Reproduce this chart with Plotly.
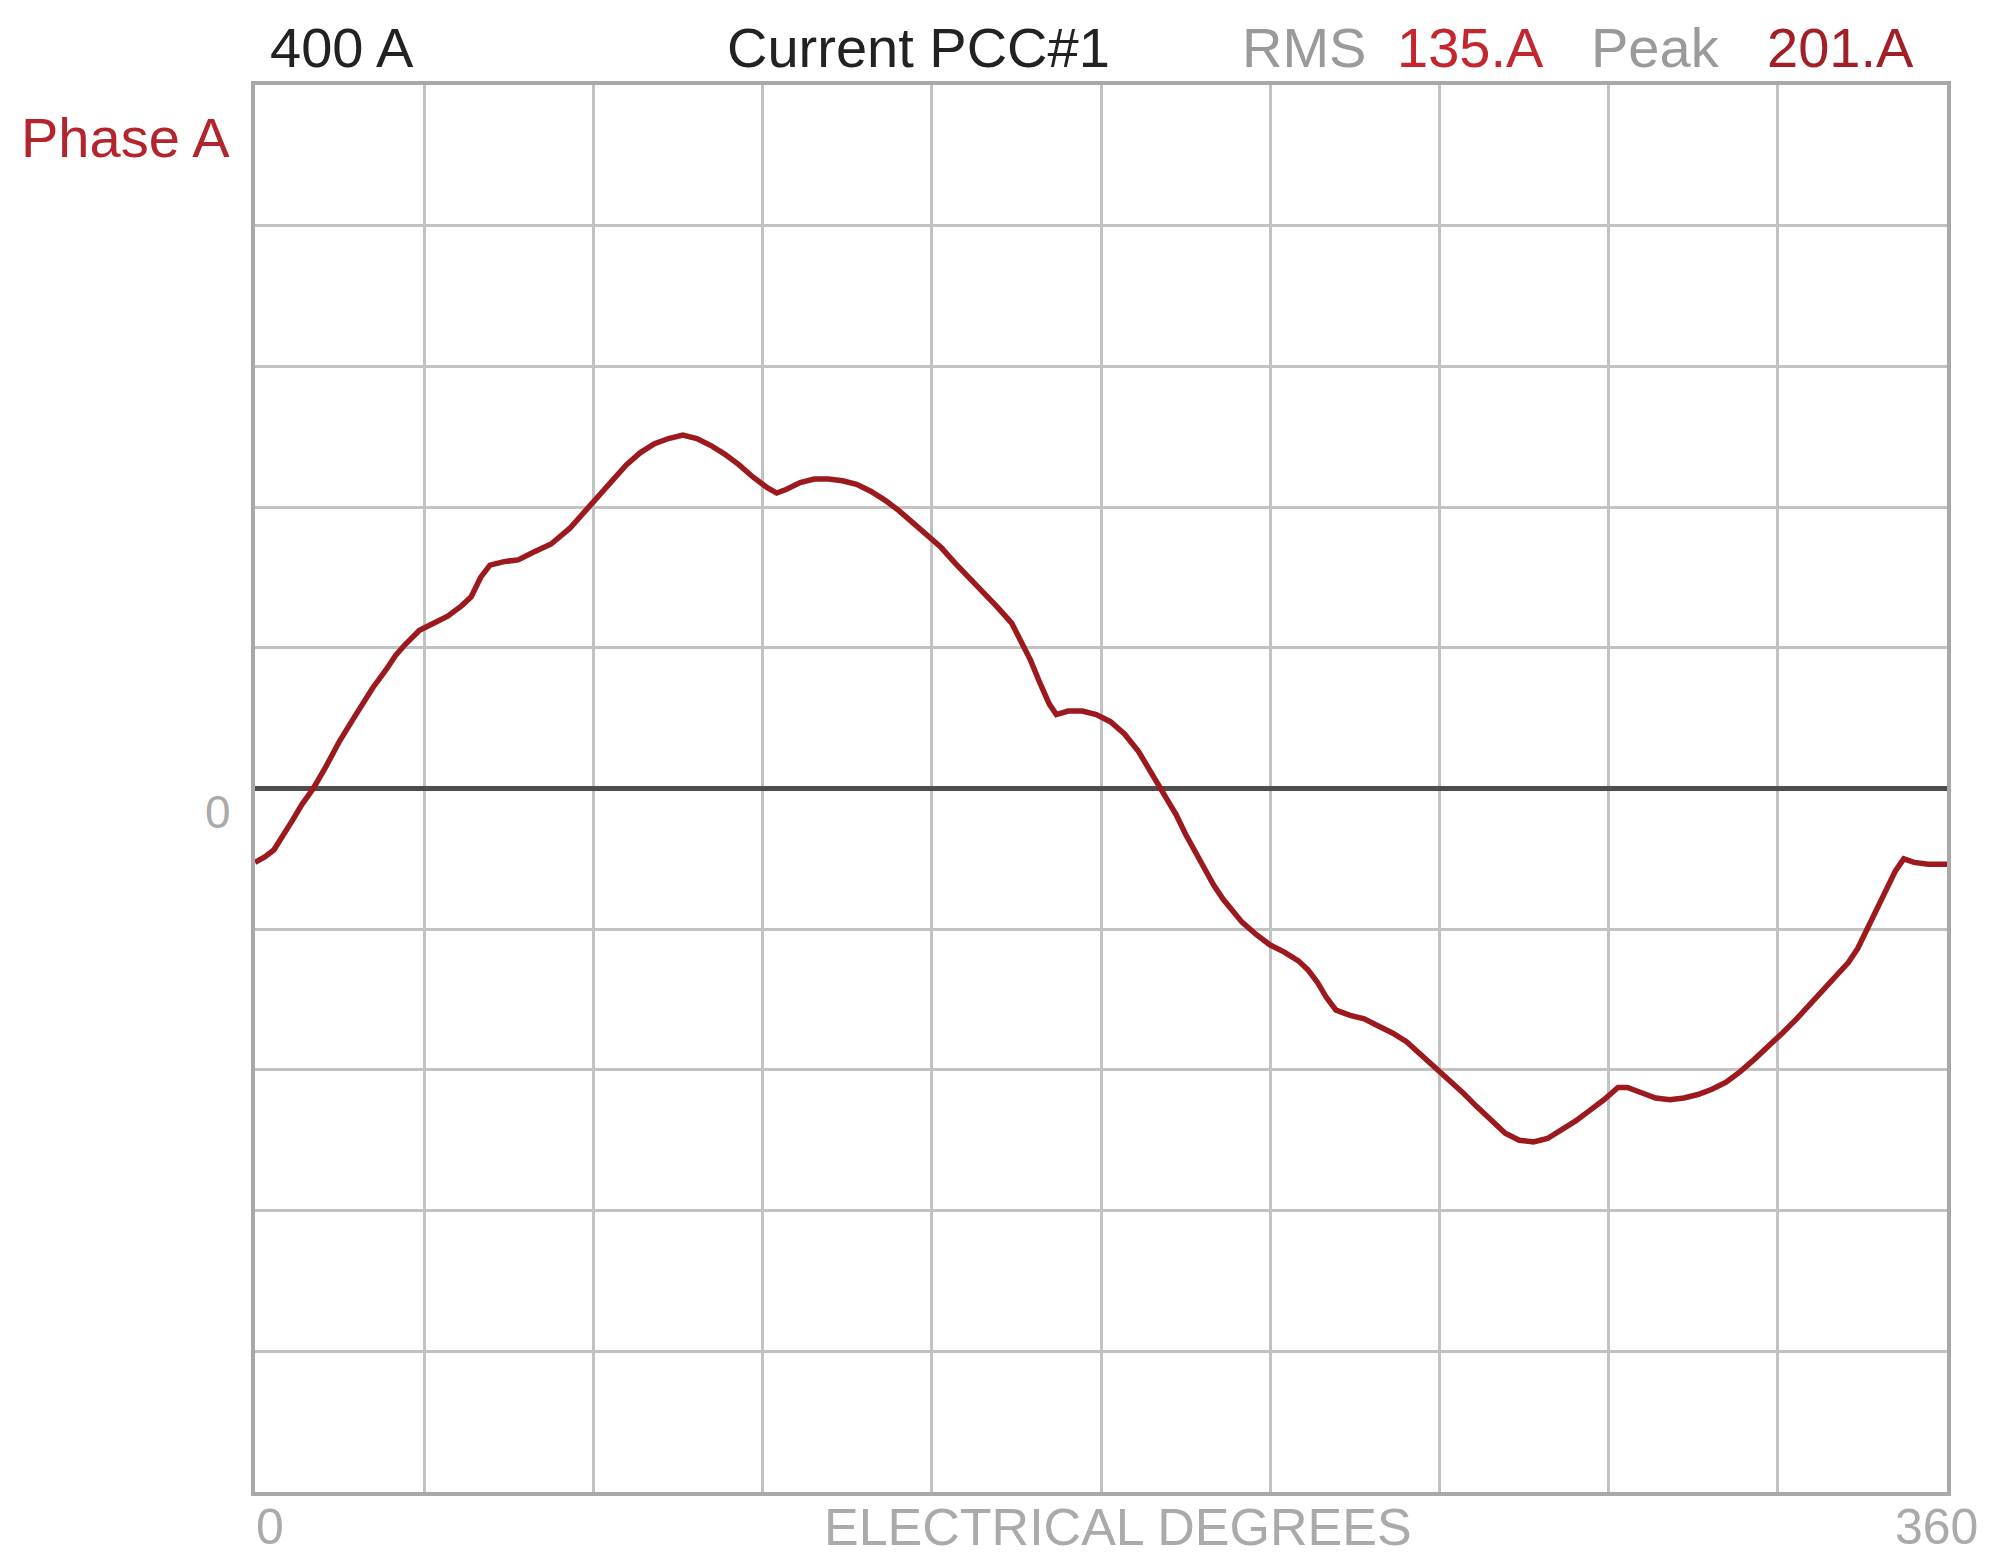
import plotly.graph_objects as go

# waveform: electrical degrees vs amps
degrees = [
    0, 2, 4, 6, 8, 10, 12.4, 15, 18, 21, 25, 28, 30, 32, 35, 38, 41, 44, 46,
    48, 50, 53, 56, 59, 63, 67, 70, 73, 76, 79, 82, 85, 88, 91, 94, 97, 100,
    103, 106, 109, 111, 113, 116, 119, 122, 125, 128, 131, 134, 137, 140, 143,
    146, 149, 152, 155, 158, 161, 163, 165, 167, 169, 170.5, 173, 176, 179,
    182, 185, 188, 191, 193, 196, 198, 200, 202, 204, 206, 208, 210, 213, 216,
    219, 222, 224, 226, 228, 230, 233, 236, 239, 242, 245, 248, 251, 254, 257,
    260, 263, 266, 269, 272, 275, 278, 281, 284, 287, 290, 292, 295, 298, 301,
    304, 307, 310, 313, 316, 319, 322, 325, 328, 331, 334, 337, 339, 341, 343,
    345, 347, 349, 350.8, 353, 356, 360,
]
current = [
    -42, -39, -35, -27, -18, -9, 0, 12, 27, 40, 57, 68, 76, 82, 90, 94, 98,
    104, 109, 120, 127, 129, 130, 134, 139, 148, 157, 166, 175, 184, 191, 196,
    199, 201, 199, 195, 190, 184, 177, 171, 168, 170, 174, 176, 176, 175, 173,
    169, 164, 158, 151, 144, 137, 128, 120, 111, 103, 94, 84, 73, 60, 48, 42,
    44, 44, 42, 38, 31, 21, 8, -1, -15, -26, -36, -46, -55, -63, -70, -76,
    -83, -89, -93, -98, -103, -110, -119, -126, -129, -131, -135, -139, -144,
    -151, -158, -165, -173, -181, -189, -196, -200, -201, -199, -194, -189,
    -183, -177, -170, -170, -173, -176, -177, -176, -174, -171, -167, -161,
    -154, -147, -139, -131, -122, -113, -105, -99, -91, -80, -68, -57, -47,
    -40, -42, -43, -43,
]

full_scale = 400
title = "Current PCC#1"
phase = "Phase A"
rms_value = "135.A"
peak_value = "201.A"
x_labels = ["0", "360"]
x_title = "ELECTRICAL DEGREES"

# page body adds an 8px margin, so the figure is shrunk to fit the window
OFF = 8
W, H = 2001 - 2 * OFF, 1568 - 2 * OFF
L, T = 255 - OFF, 85 - OFF
R, B = W - (1947 - OFF), H - (1492 - OFF)
FONT = "Liberation Sans, Arial, sans-serif"
GREY_TXT = "#9a9a9a"
GRID = "#c2c2c2"
TRACE = "#9c1a1e"


def px_x(x):
    # x in window pixels -> paper coords
    return (x - OFF - L) / (W - L - R)


def px_y(y):
    return (H - B - (y - OFF)) / (H - T - B)


fig = go.Figure()
fig.add_trace(
    go.Scatter(
        x=degrees,
        y=current,
        mode="lines",
        line={"color": TRACE, "width": 5.5},
        showlegend=False,
        hoverinfo="skip",
    )
)

texts = [
    # text, left px, centre y px, colour, size
    (f"{full_scale} A", 268, 47, "#222222", 56),
    (title, 725, 47, "#222222", 56),
    ("RMS", 1240, 47, GREY_TXT, 56),
    (rms_value, 1395, 47, "#c4262e", 56),
    ("Peak", 1589, 47, GREY_TXT, 56),
    (peak_value, 1765, 47, "#a31f28", 56),
    (phase, 19, 138, "#b3242c", 56),
]
for text, x, y, color, size in texts:
    fig.add_annotation(
        text=text, x=px_x(x), y=px_y(y), xref="paper", yref="paper",
        xanchor="left", yanchor="middle", showarrow=False,
        font={"family": FONT, "size": size, "color": color},
    )

fig.add_annotation(
    text="0", x=px_x(218), y=px_y(812), xref="paper", yref="paper",
    xanchor="center", yanchor="middle", showarrow=False,
    font={"family": FONT, "size": 46, "color": "#aaaaaa"},
)
fig.add_annotation(
    text=x_labels[0], x=px_x(254), y=px_y(1527), xref="paper", yref="paper",
    xanchor="left", yanchor="middle", showarrow=False,
    font={"family": FONT, "size": 50, "color": "#aaaaaa"},
)
fig.add_annotation(
    text=x_labels[1], x=px_x(1980), y=px_y(1527), xref="paper", yref="paper",
    xanchor="right", yanchor="middle", showarrow=False,
    font={"family": FONT, "size": 50, "color": "#aaaaaa"},
)
fig.add_annotation(
    text=x_title, x=px_x(1118), y=px_y(1527), xref="paper", yref="paper",
    xanchor="center", yanchor="middle", showarrow=False,
    font={"family": FONT, "size": 52, "color": "#aaaaaa"},
)

fig.update_layout(
    width=W,
    height=H,
    margin={"l": L, "r": R, "t": T, "b": B},
    paper_bgcolor="white",
    plot_bgcolor="white",
)
fig.update_xaxes(
    range=[0, 360],
    dtick=36,
    showgrid=True,
    gridcolor=GRID,
    gridwidth=3,
    zeroline=False,
    showticklabels=False,
    ticks="",
    showline=True,
    mirror=True,
    linecolor="#a8a8a8",
    linewidth=4,
)
fig.update_yaxes(
    range=[-full_scale, full_scale],
    dtick=80,
    showgrid=True,
    gridcolor=GRID,
    gridwidth=3,
    zeroline=True,
    zerolinecolor="#4d4d4d",
    zerolinewidth=5,
    showticklabels=False,
    ticks="",
    showline=True,
    mirror=True,
    linecolor="#a8a8a8",
    linewidth=4,
)

fig.write_html("out.html")
